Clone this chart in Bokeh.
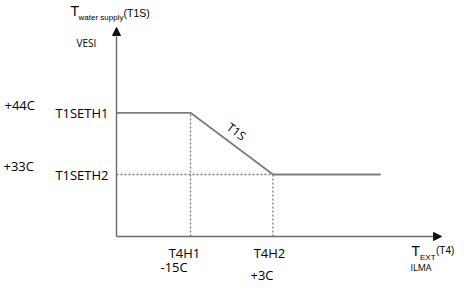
from bokeh.plotting import figure
from bokeh.models import Range1d, Arrow, NormalHead
from bokeh.core.properties import value
from bokeh.embed import file_html
from bokeh.resources import INLINE
import math

# ---- data (schematic temperature curve) ----
t4_labels = ["T4H1", "T4H2"]
t4_values = [-15, 3]
t4_texts = ["-15C", "+3C"]
t1_labels = ["T1SETH1", "T1SETH2"]
t1_values = [44, 33]
t1_texts = ["+44C", "+33C"]
curve_x = [-31.1, -15, 3, 26.5]
curve_y = [44, 44, 33, 33]

# ---- layout helpers (pixel <-> data) ----
W, H = 464, 292
SX = 82.5 / 18.0          # px per degree (x)
SY = 61.7 / 11.0          # px per degree (y)
X0 = -15 - 190 / SX       # data x at left edge
Y0 = 44 + 112.3 / SY      # data y at top edge


def X(px):
    return X0 + px / SX


def Y(py):
    return Y0 - py / SY


p = figure(width=W, height=H, x_range=Range1d(X0, X0 + W / SX),
           y_range=Range1d(Y0 - H / SY, Y0), toolbar_location=None,
           output_backend="svg", min_border=0, min_border_left=0,
           min_border_right=0, min_border_top=0, min_border_bottom=0)
p.xaxis.visible = False
p.yaxis.visible = False
p.grid.visible = False
p.outline_line_color = None
p.background_fill_color = "white"
p.border_fill_color = "white"

ox, oy = X(116), Y(236)
AX = "#6a6a6a"

# axes with arrows
p.add_layout(Arrow(end=NormalHead(size=8, fill_color="#111111", line_color="#111111"),
                   x_start=ox, y_start=oy, x_end=ox, y_end=Y(27),
                   line_color=AX, line_width=1.4))
p.add_layout(Arrow(end=NormalHead(size=8, fill_color="#111111", line_color="#111111"),
                   x_start=ox, y_start=oy, x_end=X(441), y_end=oy,
                   line_color=AX, line_width=1.4))

# dotted guides
dot = dict(line_color="#7a7a7a", line_width=1.3, line_dash="2 2")
p.line([ox, t4_values[1]], [t1_values[1], t1_values[1]], **dot)
p.line([t4_values[0], t4_values[0]], [oy, t1_values[0]], **dot)
p.line([t4_values[1], t4_values[1]], [oy, t1_values[1]], **dot)

# curve
p.line(curve_x, curve_y, line_color="#7d7d7d", line_width=1.8)

TXT = "#000000"
OS = value("Open Sans")
AR = value("Liberation Sans")

# y labels
p.text(x=[X(108)] * 2, y=[Y(112.8), Y(174.5)], text=t1_labels, text_font=OS,
       text_font_size="13px", text_align="right", text_baseline="middle", text_color=TXT)
p.text(x=[X(4), X(3)], y=[Y(104), Y(165)], text=t1_texts, text_font=OS,
       text_font_size="13px", text_align="left", text_baseline="middle", text_color=TXT)

# x labels
p.text(x=[X(184), X(269)], y=[Y(252.5)] * 2, text=t4_labels, text_font=OS,
       text_font_size="13px", text_align="center", text_baseline="middle", text_color=TXT)
p.text(x=[X(160), X(250)], y=[Y(266.5), Y(274.5)], text=t4_texts, text_font=OS,
       text_font_size="13px", text_align="left", text_baseline="middle", text_color=TXT)

# curve label
ang = -math.atan2(62, 82.5)
p.text(x=[X(236)], y=[Y(131)], text=["T1S"], angle=ang, text_font=OS,
       text_font_size="12px", text_align="center", text_baseline="middle", text_color=TXT)

# y-axis title
p.text(x=[X(70)], y=[Y(10.5)], text=["T"], text_font=AR, text_font_size="14px",
       text_align="left", text_baseline="middle", text_color=TXT)
p.text(x=[X(78)], y=[Y(16.5)], text=["water supply"], text_font=AR, text_font_size="8px",
       text_align="left", text_baseline="middle", text_color=TXT)
p.text(x=[X(123)], y=[Y(12)], text=["(T1S)"], text_font=AR, text_font_size="10.5px",
       text_align="left", text_baseline="middle", text_color=TXT)
p.text(x=[X(76)], y=[Y(42.5)], text=["VESI"], text_font=OS, text_font_size="10px",
       text_align="left", text_baseline="middle", text_color=TXT)

# x-axis title
p.text(x=[X(411)], y=[Y(250)], text=["T"], text_font=AR, text_font_size="14px",
       text_align="left", text_baseline="middle", text_color=TXT)
p.text(x=[X(419.5)], y=[Y(256.5)], text=["EXT"], text_font=AR, text_font_size="8px",
       text_align="left", text_baseline="middle", text_color=TXT)
p.text(x=[X(435.5)], y=[Y(249.5)], text=["(T4)"], text_font=AR, text_font_size="10px",
       text_align="left", text_baseline="middle", text_color=TXT)
p.text(x=[X(410)], y=[Y(266.5)], text=["ILMA"], text_font=OS, text_font_size="9px",
       text_align="left", text_baseline="middle", text_color=TXT)

open("out.html", "w").write(file_html(p, INLINE))
